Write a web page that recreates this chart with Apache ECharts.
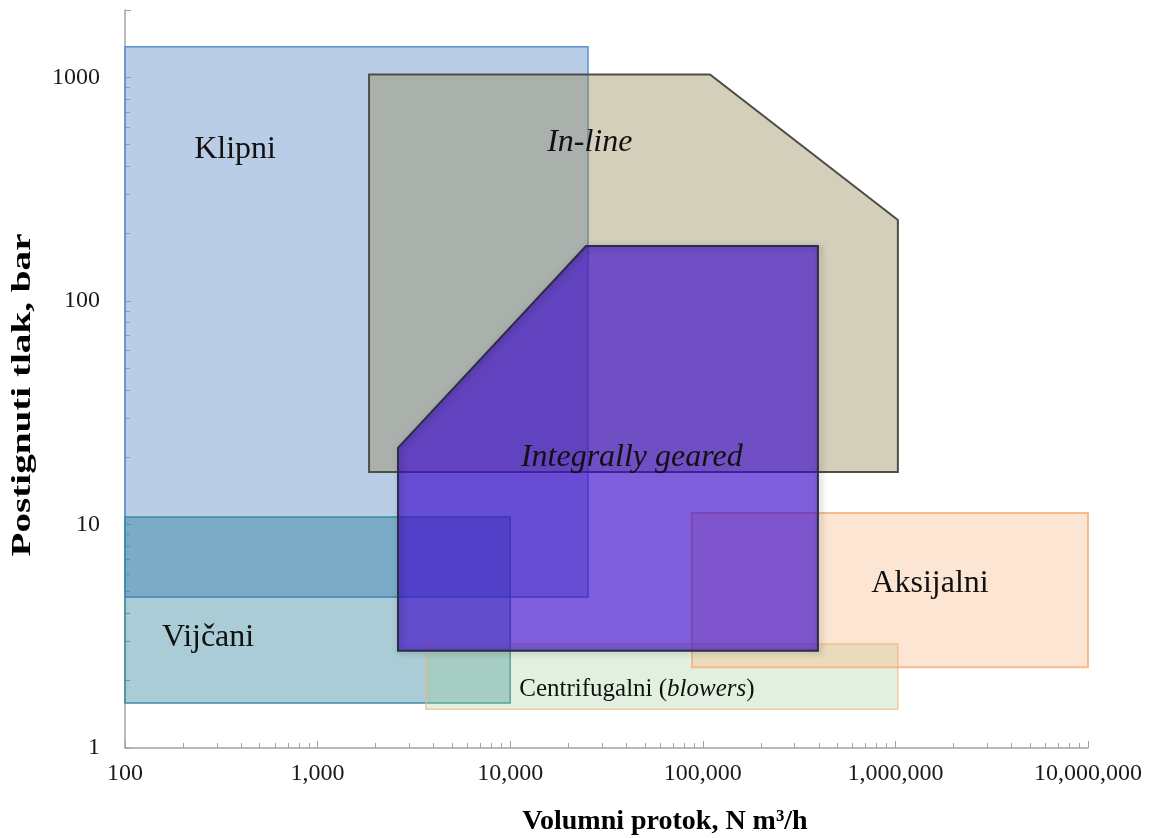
<!DOCTYPE html>
<html><head><meta charset="utf-8">
<script src="https://cdn.jsdelivr.net/npm/echarts@6/dist/echarts.min.js"></script>
<style>html,body{margin:0;padding:0;background:#fff}#c{width:1157px;height:838px}</style>
</head><body><div id="c"></div>
<script>
// ---------- data ----------
const X_MIN = 100, X_MAX = 10000000;
const Y_MIN = 1, Y_MAX = 2000;
const X_DECADES = [100, 1000, 10000, 100000, 1000000];
const Y_DECADES = [1, 10, 100, 1000];
const Y_TICK_LABELS = [1, 10, 100, 1000];
const MINOR_STEPS = [2, 3, 4, 5, 6, 7, 8, 9];

// region outlines: [flow N m3/h, pressure bar]
const KLIPNI = [[100, 4.73], [25350, 4.73], [25350, 1370], [100, 1370]];
const IN_LINE = [[1850, 17.15], [1850, 1030], [109000, 1030], [1030000, 230], [1030000, 17.15]];
const VIJCANI = [[100, 1.59], [10000, 1.59], [10000, 10.8], [100, 10.8]];
const CENTRIFUGALNI = [[3650, 1.49], [1030000, 1.49], [1030000, 2.92], [3650, 2.92]];
const AKSIJALNI = [[87900, 2.30], [10000000, 2.30], [10000000, 11.25], [87900, 11.25]];
const INTEGRALLY_GEARED = [[2615, 2.72], [2615, 22], [24750, 176], [396000, 176], [396000, 2.72]];

const REGION_LABELS = ['Klipni', 'In-line', 'Integrally geared', 'Vijčani', 'Aksijalni', 'Centrifugalni (blowers)'];
// ---------- layout ----------
const LABEL_ANCHORS = [[373, 476], [25900, 512], [42800, 19.9], [270, 3.11], [1513000, 5.43], [45500, 1.82]];
const LABEL_ITALIC = [false, true, true, false, false, false];

const FONT = '"Liberation Serif", "Times New Roman", serif';
const AX = '#a3a3a3';

const xMinor = [], yMinor = [];
X_DECADES.forEach(d => MINOR_STEPS.forEach(s => xMinor.push(d * s)));
Y_DECADES.slice(0, 3).forEach(d => MINOR_STEPS.forEach(s => yMinor.push(d * s)));

function fmtThousands(v) {
  return String(Math.round(v)).replace(/\B(?=(\d{3})+(?!\d))/g, ',');
}

function region(name, verts, style, z, extra) {
  return {
    type: 'custom', name: name, coordinateSystem: 'cartesian2d', xAxisIndex: 0, yAxisIndex: 0,
    data: verts, z: z, silent: true, clip: false,
    renderItem: function (params, api) {
      if (params.dataIndex !== 0) return null;
      const pts = verts.map(v => api.coord(v));
      const children = [{ type: 'polygon', shape: { points: pts }, style: style }];
      if (extra) children.push({ type: 'polygon', shape: { points: pts }, style: extra });
      return { type: 'group', children: children };
    }
  };
}

const labelSeries = {
  type: 'custom', name: 'labels', coordinateSystem: 'cartesian2d', xAxisIndex: 0, yAxisIndex: 0,
  data: LABEL_ANCHORS, z: 50, silent: true, clip: false,
  renderItem: function (params, api) {
    const i = params.dataIndex;
    const p = api.coord(LABEL_ANCHORS[i]);
    const name = REGION_LABELS[i];
    if (name.indexOf('(') >= 0) {
      const m = name.match(/^(.*\()(.*)(\))$/);
      return {
        type: 'text', x: p[0], y: p[1],
        style: {
          text: '{n|' + m[1] + '}{i|' + m[2] + '}{n|' + m[3] + '}',
          align: 'center', verticalAlign: 'middle',
          rich: {
            n: { fontFamily: FONT, fontSize: 25, fill: '#111', color: '#111' },
            i: { fontFamily: FONT, fontSize: 25, fontStyle: 'italic', fill: '#111', color: '#111' }
          }
        }
      };
    }
    return {
      type: 'text', x: p[0], y: p[1],
      style: {
        text: name, fill: '#111', fontFamily: FONT, fontSize: 32,
        fontStyle: LABEL_ITALIC[i] ? 'italic' : 'normal',
        align: 'center', verticalAlign: 'middle'
      }
    };
  }
};

const gridBox = { left: 125, right: 69, top: 10, bottom: 90 };

const option = {
  backgroundColor: '#fff',
  animation: false,
  grid: [Object.assign({}, gridBox), Object.assign({}, gridBox)],
  xAxis: [
    {
      type: 'log', logBase: 10, gridIndex: 0, min: X_MIN, max: X_MAX,
      axisLine: { show: true, lineStyle: { color: AX, width: 1.5 } },
      axisTick: { show: true, inside: true, length: 7, lineStyle: { color: AX, width: 1 } },
      axisLabel: { fontFamily: FONT, fontSize: 24, color: '#1a1a1a', margin: 14, formatter: fmtThousands },
      splitLine: { show: false }
    },
    {
      type: 'log', logBase: 10, gridIndex: 1, min: X_MIN, max: X_MAX,
      axisLine: { show: false },
      axisTick: { show: true, inside: true, length: 5, customValues: xMinor, lineStyle: { color: AX, width: 1 } },
      axisLabel: { show: false }, splitLine: { show: false }
    }
  ],
  yAxis: [
    {
      type: 'log', logBase: 10, gridIndex: 0, min: Y_MIN, max: Y_MAX,
      axisLine: { show: true, lineStyle: { color: AX, width: 1.5 } },
      axisTick: { show: true, inside: true, length: 6, lineStyle: { color: AX, width: 1 } },
      axisLabel: {
        fontFamily: FONT, fontSize: 24, color: '#1a1a1a', margin: 25,
        formatter: function (v) { return Y_TICK_LABELS.indexOf(Math.round(v)) >= 0 ? String(Math.round(v)) : ''; }
      },
      splitLine: { show: false }
    },
    {
      type: 'log', logBase: 10, gridIndex: 1, min: Y_MIN, max: Y_MAX,
      axisLine: { show: false },
      axisTick: { show: true, inside: true, length: 5, customValues: yMinor, lineStyle: { color: AX, width: 1 } },
      axisLabel: { show: false }, splitLine: { show: false }
    }
  ],
  graphic: [
    {
      type: 'text', x: 665, y: 822, z: 100,
      style: { text: 'Volumni protok, N m³/h', fill: '#000', font: 'bold 28px "Liberation Serif"', align: 'center', verticalAlign: 'middle' }
    },
    {
      type: 'text', x: 23, y: 395, rotation: Math.PI / 2, scaleX: 1.45, z: 100,
      style: { text: 'Postignuti tlak, bar', fill: '#000', font: 'bold 27px "Liberation Serif"', align: 'center', verticalAlign: 'middle' }
    }
  ],
  series: [
    region('Klipni', KLIPNI, { fill: 'rgba(115,155,205,0.5)', stroke: '#5a8fd2', lineWidth: 1.5 }, 1),
    region('In-line', IN_LINE, { fill: 'rgba(147,135,85,0.4)', stroke: '#4e4e46', lineWidth: 2 }, 2),
    region('Vijčani', VIJCANI, { fill: 'rgba(9,109,138,0.35)', stroke: '#3b8ea3', lineWidth: 1.5 }, 3),
    region('Centrifugalni', CENTRIFUGALNI, { fill: 'rgba(160,210,150,0.3)', stroke: 'rgba(246,180,130,0.7)', lineWidth: 1.5 }, 4),
    region('Aksijalni', AKSIJALNI, { fill: 'rgba(250,170,110,0.3)', stroke: 'rgba(246,178,125,0.85)', lineWidth: 2 }, 5),
    region('Integrally geared', INTEGRALLY_GEARED,
      { fill: 'rgba(60,10,200,0.66)', stroke: null },
      6,
      { fill: null, stroke: '#2c2c48', lineWidth: 2, shadowBlur: 6, shadowColor: 'rgba(0,0,0,0.35)', shadowOffsetX: 2, shadowOffsetY: 1 }),
    labelSeries
  ]
};

const chart = echarts.init(document.getElementById('c'), null, { renderer: 'canvas' });
chart.setOption(option);
</script>
</body></html>
